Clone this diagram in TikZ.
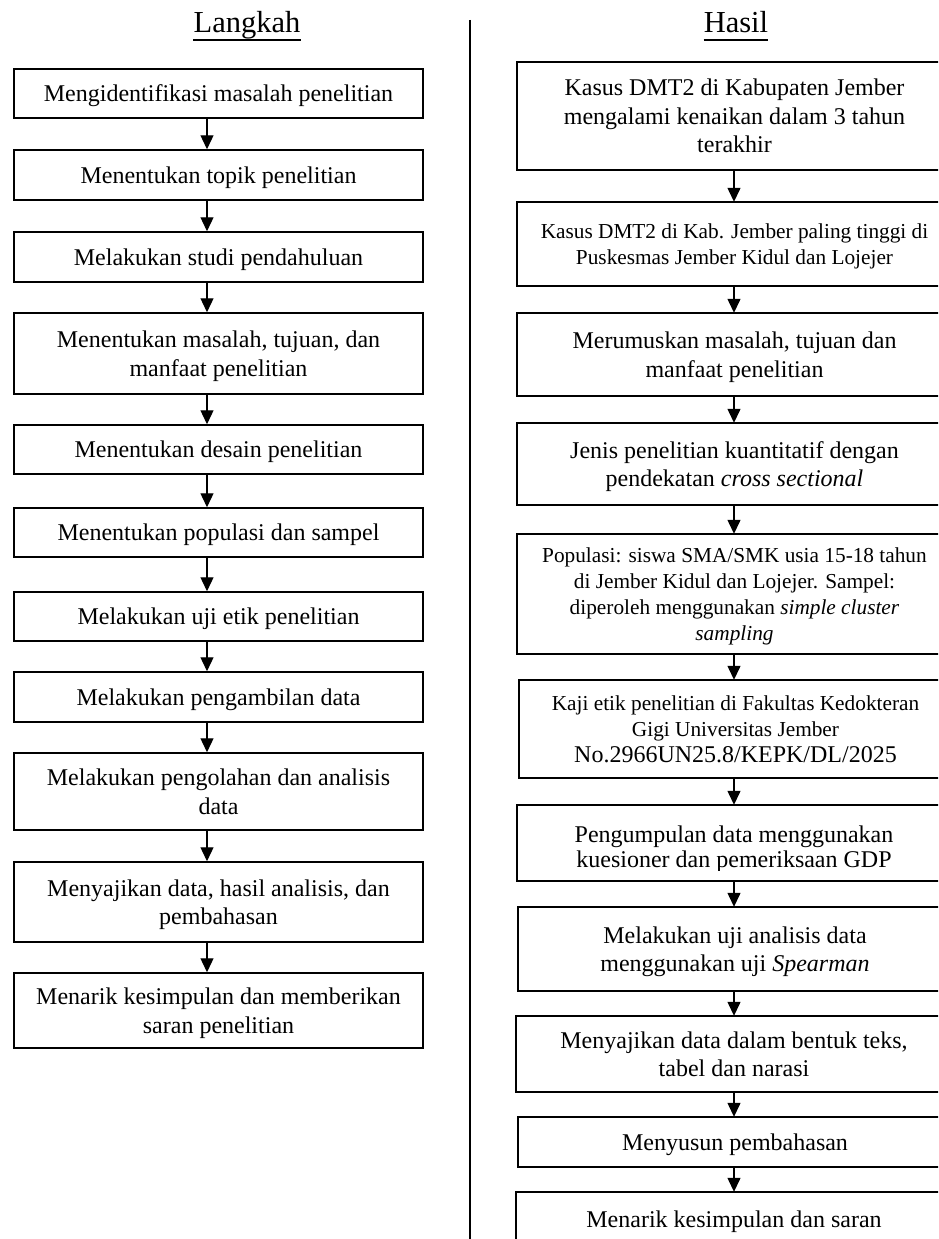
\documentclass[tikz,border=0pt]{standalone}
\usepackage{fontspec}
\setmainfont{Liberation Serif}
\usetikzlibrary{arrows.meta,calc}
\tikzset{
  boxstyle/.style={draw, line width=1.5pt, align=center, inner sep=0pt, text depth=0pt,
    font=\fontsize{24}{28.5}\selectfont},
  rboxstyle/.style={align=center, inner sep=0pt, text depth=0pt,
    font=\fontsize{24}{28.5}\selectfont},
  rsmallbox/.style={rboxstyle, font=\fontsize{21.3}{26}\selectfont},
  border/.style={line width=1.5pt, line join=miter},
  txtstyle/.style={inner sep=0pt, font=\fontsize{24}{28.5}\selectfont},
  headstyle/.style={inner sep=0pt, anchor=base, font=\fontsize{30.5}{36}\selectfont},
  arr/.style={line width=1.3pt, -{Triangle[width=13pt,length=14pt]}},
}
% #1 name, #2 style, #3 x1, #4 y1, #5 x2, #6 y2, #7 text
\newcommand\mkbox[7]{%
  \node[#2, minimum width={(#5-#3)*1pt}, minimum height={(#6-#4)*1pt}]
    (#1) at ({(#3+#5)/2},{(#4+#6)/2}) {#7};}
\begin{document}
\begin{tikzpicture}[x=1pt,y=-1pt]
\useasboundingbox (0,0) rectangle (938,1239);
\clip (0,0) rectangle (938,1239);
\fill[white] (0,0) rectangle (938,1239);

% headings
\node[headstyle] (hl) at (247,33) {Langkah};
\node[headstyle] (hr) at (736,33) {Hasil};
\draw[line width=1.5pt] ([yshift=-7pt]hl.base west) -- ([yshift=-7pt]hl.base east);
\draw[line width=1.5pt] ([yshift=-7pt]hr.base west) -- ([yshift=-7pt]hr.base east);

% divider
\coordinate (dtop) at (470,20);
\coordinate (dbot) at (470,1239);
\draw[line width=1.2pt] (dtop) -- (dbot);

\coordinate (lax) at (207,0);
\coordinate (rax) at (734,0);

% left column
\mkbox{L1}{boxstyle}{14}{69}{423}{118}{Mengidentifikasi masalah penelitian}
\mkbox{L2}{boxstyle}{14}{150}{423}{200}{Menentukan topik penelitian}
\mkbox{L3}{boxstyle}{14}{232}{423}{282}{Melakukan studi pendahuluan}
\mkbox{L4}{boxstyle}{14}{313}{423}{394}{Menentukan masalah, tujuan, dan\\manfaat penelitian}
\mkbox{L5}{boxstyle}{14}{425}{423}{474}{Menentukan desain penelitian}
\mkbox{L6}{boxstyle}{14}{508}{423}{557}{Menentukan populasi dan sampel}
\mkbox{L7}{boxstyle}{14}{592}{423}{641}{Melakukan uji etik penelitian}
\mkbox{L8}{boxstyle}{14}{672}{423}{722}{Melakukan pengambilan data}
\mkbox{L9}{boxstyle}{14}{753}{423}{830}{Melakukan pengolahan dan analisis\\data}
\mkbox{L10}{boxstyle}{14}{862}{423}{942}{Menyajikan data, hasil analisis, dan\\pembahasan}
\mkbox{L11}{boxstyle}{14}{973}{423}{1048}{Menarik kesimpulan dan memberikan\\saran penelitian}

\foreach \a/\b in {L1/L2,L2/L3,L3/L4,L4/L5,L5/L6,L6/L7,L7/L8,L8/L9,L9/L10,L10/L11}
  \draw[arr] (\a.south -| lax) -- (\b.north -| lax);

% right column (boxes run past the right edge of the page)
\mkbox{R1}{rboxstyle}{517}{62}{952}{170}{Kasus DMT2 di Kabupaten Jember\\mengalami kenaikan dalam 3 tahun\\terakhir}
\mkbox{R2}{rsmallbox}{517}{202}{952}{286}{Kasus DMT2 di Kab. Jember paling tinggi di\\Puskesmas Jember Kidul dan Lojejer}
\mkbox{R3}{rboxstyle}{517}{313}{952}{396}{Merumuskan masalah, tujuan dan\\manfaat penelitian}
\mkbox{R4}{rboxstyle}{517}{423}{952}{505}{Jenis penelitian kuantitatif dengan\\pendekatan \textit{cross sectional}}
\mkbox{R5}{rsmallbox}{517}{534}{952}{654}{Populasi: siswa SMA/SMK usia 15-18 tahun\\di Jember Kidul dan Lojejer. Sampel:\\diperoleh menggunakan \textit{simple cluster}\\\textit{sampling}}
\mkbox{R6}{rsmallbox}{519}{680}{952}{778}{Kaji etik penelitian di Fakultas Kedokteran\\Gigi Universitas Jember\\{\fontsize{24}{27}\selectfont No.2966UN25.8/KEPK/DL/2025}}
\begin{scope}
  \clip (517,805) rectangle (952,870);
  \node[txtstyle, anchor=base] (R7a) at (734,842) {Pengumpulan data menggunakan};
  \node[txtstyle, anchor=base] (R7b) at (734,867) {kuesioner dan pemeriksaan GDP};
\end{scope}
\mkbox{R7}{rboxstyle}{517}{805}{952}{881}{}
\mkbox{R8}{rboxstyle}{518}{907}{952}{991}{Melakukan uji analisis data\\menggunakan uji \textit{Spearman}}
\mkbox{R9}{rboxstyle}{516}{1016}{952}{1092}{Menyajikan data dalam bentuk teks,\\tabel dan narasi}
\mkbox{R10}{rboxstyle}{518}{1117}{952}{1167}{Menyusun pembahasan}
\mkbox{R11}{rboxstyle}{516}{1192}{952}{1246}{Menarik kesimpulan dan saran}

\foreach \n in {R1,R2,R3,R4,R5,R6,R7,R8,R9,R10,R11}
  \draw[border] (\n.north east) -- (\n.north west) -- (\n.south west) -- (\n.south east);

\foreach \a/\b in {R1/R2,R2/R3,R3/R4,R4/R5,R5/R6,R6/R7,R7/R8,R8/R9,R9/R10,R10/R11}
  \draw[arr] (\a.south -| rax) -- (\b.north -| rax);
\end{tikzpicture}
\end{document}
